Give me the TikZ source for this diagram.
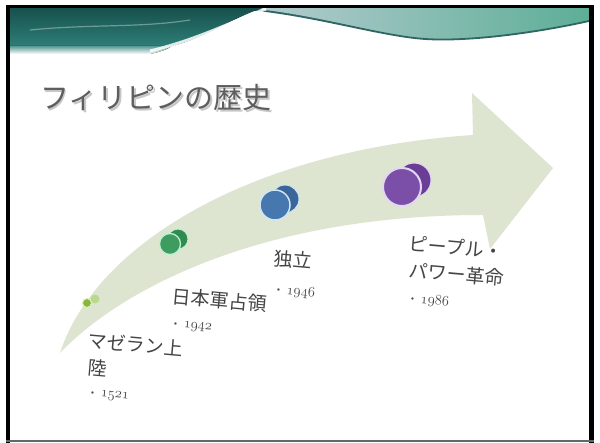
\documentclass[tikz,border=0pt]{standalone}
\usepackage{fontspec}
\newfontfamily\jp{Noto Sans CJK JP}
\definecolor{arrowfill}{HTML}{DDE5D0}
\definecolor{titlegray}{HTML}{5E5E5E}
\definecolor{labelgray}{HTML}{454545}
\definecolor{tealdark}{HTML}{17504C}
\definecolor{tealmid}{HTML}{2E7E78}
\definecolor{bandA}{HTML}{B9CDD2}
\definecolor{bandB}{HTML}{5DAE97}
\definecolor{edgeteal}{HTML}{2F6664}
\definecolor{purB}{HTML}{6A3E97}
\definecolor{purF}{HTML}{7B4FA8}
\definecolor{purR}{HTML}{E2D6F0}
\definecolor{bluB}{HTML}{3A669B}
\definecolor{bluF}{HTML}{4677AE}
\definecolor{bluR}{HTML}{CFE6F4}
\definecolor{grnB}{HTML}{2F8B50}
\definecolor{grnF}{HTML}{3E9C61}
\definecolor{grnR}{HTML}{BFEFCF}
\definecolor{limB}{HTML}{B9D98F}
\definecolor{limF}{HTML}{86B63D}
\definecolor{limR}{HTML}{DDF2B6}
\newcommand{\yr}[1]{{\fontsize{8}{8}\selectfont\raisebox{1.5pt}{\textbullet}}\hspace{5pt}{\fontsize{14.5}{14.5}\selectfont$\mathnormal{#1}$}}
\begin{document}
\begin{tikzpicture}[x=1pt,y=-1pt,
  dot/.style={circle,inner sep=0pt,minimum size=#1},
  lab/.style={anchor=west,inner sep=0pt,rotate=-5,text=labelgray,font=\jp\fontsize{19}{19}\selectfont},
  yearlab/.style={anchor=west,inner sep=0pt,rotate=-5,text=labelgray}]
\useasboundingbox (0,0) rectangle (600,443);
\fill[white] (0,0) rectangle (600,443);

% ---- top banner ----
\fill[left color=bandA,right color=bandB] (240,8) -- (589,8) -- (589,21)
  .. controls (540,32) and (470,42) .. (425,39)
  .. controls (380,36) and (310,12) .. (240,8) -- cycle;
\draw[edgeteal,line width=1.8] (245,9) .. controls (310,14) and (380,36) .. (425,39)
  .. controls (470,42) and (540,32) .. (589,21);
\fill[top color=tealdark,bottom color=tealmid] (10,8) -- (262,8)
  .. controls (232,18) and (205,38) .. (172,46) -- (10,46) -- cycle;
\fill[top color=tealmid!80!white,bottom color=white] (10,46) -- (172,46)
  .. controls (168,49) and (160,52) .. (150,54) -- (10,54) -- cycle;
\draw[white,line width=3,opacity=.85] (150,51) .. controls (200,39) and (235,20) .. (266,9);
\draw[white,line width=1.2,opacity=.35] (30,30) .. controls (90,24) and (140,28) .. (190,20);

% ---- title ----
\node[anchor=west,inner sep=0pt,text=black!22,font=\jp\fontsize{29}{29}\selectfont] (titleshadow) at (41.5,99.5) {フィリピンの歴史};
\node[anchor=west,inner sep=0pt,text=titlegray,font=\jp\fontsize{29}{29}\selectfont] (title) at (40,98) {フィリピンの歴史};

% ---- curved arrow ----
\fill[arrowfill] (60,353) .. controls (95,245) and (250,150) .. (473,135)
  -- (472,93) -- (553,168) -- (490,249) -- (483,215)
  .. controls (260,215) and (120,290) .. (60,353) -- cycle;

% ---- circles ----
\node[dot=9pt,fill=limB] (m0b) at (95,299) {};
\node[dot=9pt,fill=limF,draw=limR,line width=1pt] (m0f) at (87,303) {};
\node[dot=20pt,fill=grnB,draw=grnR,line width=1pt] (m1b) at (178,239) {};
\node[dot=21pt,fill=grnF,draw=grnR,line width=1.3pt] (m1f) at (170,244) {};
\node[dot=28pt,fill=bluB,draw=bluR,line width=1pt] (m2b) at (285,199) {};
\node[dot=30pt,fill=bluF,draw=bluR,line width=1.5pt] (m2f) at (275,205) {};
\node[dot=34pt,fill=purB,draw=purR,line width=1pt] (m3b) at (414,180) {};
\node[dot=38pt,fill=purF,draw=purR,line width=2pt] (m3f) at (402,187) {};

% ---- labels ----
\node[lab] (l1a) at (88,340) {マゼラン上};
\node[lab] (l1b) at (88,367) {陸};
\node[yearlab] (y1) at (89,394) {\yr{1521}};
\node[lab] (l2) at (172,296) {日本軍占領};
\node[yearlab] (y2) at (172,325) {\yr{1942}};
\node[lab] (l3) at (274,258) {独立};
\node[yearlab] (y3) at (275,290) {\yr{1946}};
\node[lab] (l4a) at (409,243) {ピープル・};
\node[lab] (l4b) at (409,270) {パワー革命};
\node[yearlab] (y4) at (409,299) {\yr{1986}};

% ---- frame ----
\fill[black] (6,5) rectangle (10,443);
\fill[black] (6,5) rectangle (594,8);
\fill[black] (589,5) rectangle (594,443);
\fill[black!60] (6,440.5) rectangle (594,442.5);
\end{tikzpicture}
\end{document}
